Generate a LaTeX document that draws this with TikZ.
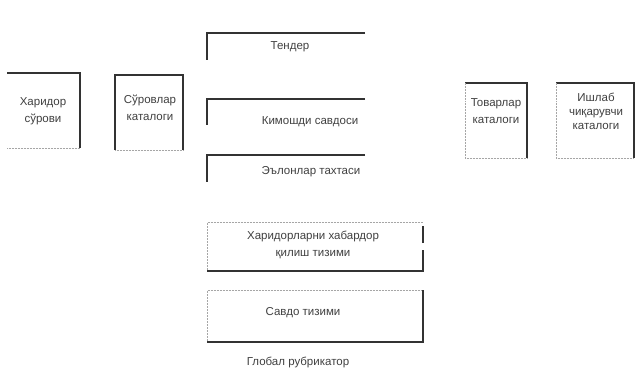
\documentclass[tikz,border=0pt]{standalone}
\usepackage{fontspec}
\setmainfont{Liberation Sans}
\usepackage{tikz}
\tikzset{
  frame/.style={line width=1.1pt,draw=black!80},
  faint/.style={line width=0.5pt,draw=black!35,densely dotted},
  lbl/.style={font=\fontsize{11.5}{17}\selectfont,text=black!75,align=center,inner sep=0pt}
}

\begin{document}
\begin{tikzpicture}[x=1pt,y=-1pt]
\useasboundingbox (0,0) rectangle (636,385);
% left catalogue boxes
\draw[frame] (7,73) -- (80,73) -- (80,148);
\draw[faint] (7,148) -- (80,148);
\node[lbl] (request) at (43,111) {Харидор\\сўрови};
\draw[frame] (115,150) -- (115,75) -- (183,75) -- (183,150);
\draw[faint] (115,150) -- (183,150);
\node[lbl] (reqcat) at (150,108) {Сўровлар\\каталоги};
% middle column, open boxes
\draw[frame] (365,33) -- (207,33) -- (207,60);
\node[lbl] (tender) at (290,47) {Тендер};
\draw[frame] (365,99) -- (207,99) -- (207,125);
\node[lbl] (auction) at (310,122) {Кимошди савдоси};
\draw[frame] (365,155) -- (207,155) -- (207,182);
\node[lbl] (board) at (311,172) {Эълонлар тахтаси};
% notification and trade systems
\draw[faint] (207,271) -- (207,222) -- (423,222);
\draw[frame] (207,271) -- (423,271) -- (423,250);
\draw[frame] (423,243) -- (423,226);
\node[lbl] (notify) at (313,245) {Харидорларни хабардор\\қилиш тизими};
\draw[faint] (207,342) -- (207,290) -- (423,290);
\draw[frame] (423,290) -- (423,342) -- (207,342);
\node[lbl] (trade) at (303,313) {Савдо тизими};
\node[lbl] (rubric) at (298,362) {Глобал рубрикатор};
% right catalogue boxes
\draw[frame] (465,83) -- (527,83) -- (527,158);
\draw[faint] (465,83) -- (465,158) -- (527,158);
\node[lbl] (goods) at (496,111) {Товарлар\\каталоги};
\draw[frame] (556,83) -- (634,83) -- (634,158);
\draw[faint] (556,83) -- (556,158) -- (634,158);
\node[lbl,font=\fontsize{11.5}{14}\selectfont] (maker) at (596,111) {Ишлаб\\чиқарувчи\\каталоги};
\end{tikzpicture}
\end{document}
